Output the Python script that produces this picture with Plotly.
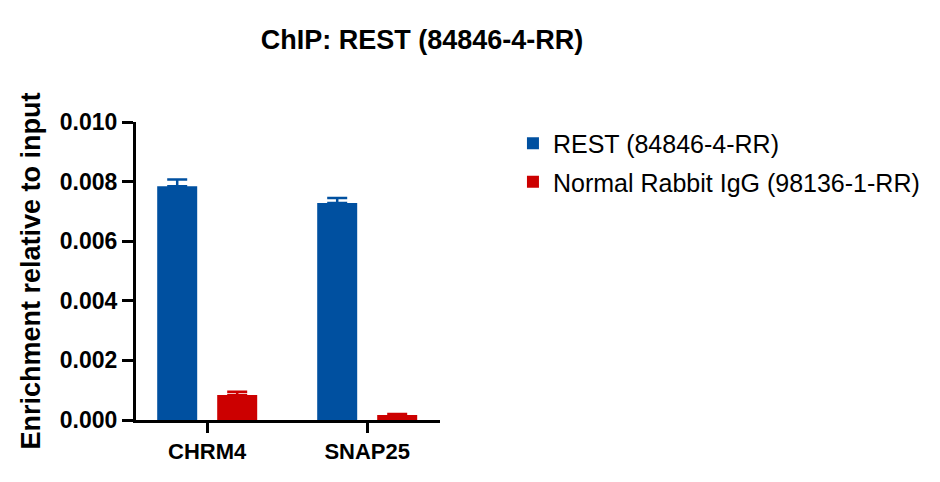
import plotly.graph_objects as go

categories = ["CHRM4", "SNAP25"]
rest_values = [0.00784, 0.00728]
rest_err = [0.00023, 0.00017]
igg_values = [0.00084, 0.00017]
igg_err = [0.00011, 0.00003]
series_names = ["REST (84846-4-RR)", "Normal Rabbit IgG (98136-1-RR)"]
y_ticks = [0, 0.002, 0.004, 0.006, 0.008, 0.010]

BLUE = "#0050A0"
RED = "#CC0000"
FONT = "Liberation Sans, Arial, sans-serif"

fig = go.Figure()
fig.add_trace(go.Bar(
    x=categories, y=rest_values, name=series_names[0], legendgroup="a",
    marker=dict(color=BLUE, line=dict(width=0)),
    width=0.25, offset=-0.3125,
    error_y=dict(type="data", symmetric=False, array=rest_err,
                 arrayminus=[0, 0], color=BLUE, thickness=2.5, width=10),
))
fig.add_trace(go.Bar(
    x=categories, y=igg_values, name=series_names[1], legendgroup="b",
    marker=dict(color=RED, line=dict(width=0)),
    width=0.25, offset=0.0625,
    error_y=dict(type="data", symmetric=False, array=igg_err,
                 arrayminus=[0, 0], color=RED, thickness=2.5, width=10),
))

fig.update_layout(
    width=940, height=482,
    margin=dict(l=128, r=508, t=114, b=70, pad=0),
    paper_bgcolor="white", plot_bgcolor="white",
    barmode="overlay",
    font=dict(family=FONT, color="black"),
    title=dict(text="<b>ChIP: REST (84846-4-RR)</b>", x=(422 - 8) / 940, xref="container",
               xanchor="center", y=1 - 32 / 482, yref="container", yanchor="middle",
               font=dict(size=27, family=FONT, color="black")),
    legend=dict(x=1.24, xref="paper", y=1.005, yanchor="top", xanchor="left",
                font=dict(size=25, family=FONT, color="black"),
                tracegroupgap=3, itemwidth=30, bgcolor="rgba(0,0,0,0)"),
    xaxis=dict(range=[-0.445, 1.455], showline=True, linecolor="black", linewidth=3,
               ticks="outside", ticklen=10, tickwidth=3, tickcolor="black",
               tickfont=dict(size=22, family=FONT, color="black"),
               showgrid=False, zeroline=False, fixedrange=True),
    yaxis=dict(range=[0, 0.0100], showline=True, linecolor="black", linewidth=3,
               ticks="outside", ticklen=11, tickwidth=3, tickcolor="black",
               tickvals=y_ticks, ticktext=["<b>%.3f</b>" % v for v in y_ticks],
               tickfont=dict(size=23, family=FONT, color="black"),
               title=dict(text="<b>Enrichment relative to input</b>", standoff=12,
                          font=dict(size=27, family=FONT, color="black")),
               showgrid=False, zeroline=False, fixedrange=True),
)
fig.update_xaxes(ticktext=["<b>%s</b>" % c for c in categories], tickvals=categories)

fig.write_html("out.html")
